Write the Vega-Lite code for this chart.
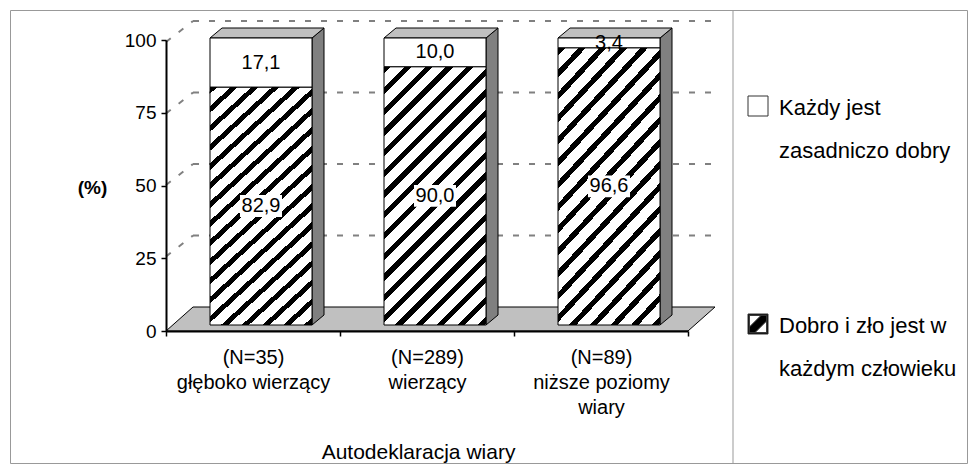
{
  "$schema": "https://vega.github.io/schema/vega-lite/v6.json",
  "autosize": "none",
  "padding": {"left": 10, "top": 10, "right": 7, "bottom": 1},
  "width": 957,
  "height": 453,
  "background": "white",
  "config": {
    "font": "Liberation Sans",
    "view": {"stroke": "#999999", "strokeWidth": 1},
    "locale": {"number": {"decimal": ",", "thousands": " ", "grouping": [3], "currency": ["", " zł"]}}
  },
  "datasets": {
    "bars": [
      {"cat": "(N=35)|głęboko wierzący", "series": "Dobro i zło jest w każdym człowieku", "value": 82.9},
      {"cat": "(N=35)|głęboko wierzący", "series": "Każdy jest zasadniczo dobry", "value": 17.1},
      {"cat": "(N=289)|wierzący", "series": "Dobro i zło jest w każdym człowieku", "value": 90.0},
      {"cat": "(N=289)|wierzący", "series": "Każdy jest zasadniczo dobry", "value": 10.0},
      {"cat": "(N=89)|niższe poziomy|wiary", "series": "Dobro i zło jest w każdym człowieku", "value": 96.6},
      {"cat": "(N=89)|niższe poziomy|wiary", "series": "Każdy jest zasadniczo dobry", "value": 3.4}
    ]
  },
  "layer": [
    {
      "data": {"values": [{}]},
      "layer": [
        {
          "mark": {"type": "point", "shape": "M-2.61,0L2.61,0L2.88,-0.24L-2.34,-0.24Z", "size": 40000, "filled": true, "fill": "#c0c0c0", "stroke": "#000000", "strokeWidth": 1, "opacity": 1},
          "encoding": {
            "x": {"datum": 1.5, "type": "quantitative", "scale": {"domain": [0, 3], "range": [156, 678], "nice": false, "zero": false}, "axis": null},
            "y": {"datum": 0, "type": "quantitative", "scale": {"domain": [0, 100], "range": [321, 30], "nice": false, "zero": false},
              "axis": {"orient": "left", "offset": -156, "values": [0, 25, 50, 75, 100], "tickSize": 5, "tickColor": "#000", "tickWidth": 1.5, "domainColor": "#000", "domainWidth": 2, "labelFontSize": 19, "labelColor": "#000", "labelPadding": 5, "grid": false, "title": "(%)", "titleAngle": 0, "titleFontSize": 19, "titleFontWeight": "bold", "titleColor": "#000", "titleX": -74, "titleY": 177, "titleAlign": "center", "titleBaseline": "middle", "zindex": 1}}
          }
        },
        {
          "mark": {"type": "rule", "color": "#999999", "strokeWidth": 1, "xOffset": 45},
          "encoding": {
            "x": {"datum": 3, "type": "quantitative", "scale": {"domain": [0, 3], "range": [156, 678], "nice": false, "zero": false}, "axis": null}
          }
        }
      ]
    },
    {
      "data": {"values": [{"v": 25}, {"v": 50}, {"v": 75}, {"v": 100}]},
      "layer": [
        {
          "mark": {"type": "rule", "color": "#808080", "strokeWidth": 2, "strokeDash": [6, 10], "xOffset": 27, "x2Offset": 24},
          "encoding": {
            "x": {"datum": 0, "type": "quantitative", "scale": {"domain": [0, 3], "range": [156, 678], "nice": false, "zero": false}, "axis": null},
            "x2": {"datum": 3},
            "y": {"field": "v", "type": "quantitative", "scale": {"domain": [0, 100], "range": [297, 11], "nice": false, "zero": false}, "axis": null}
          }
        },
        {
          "mark": {"type": "rule", "color": "#808080", "strokeWidth": 2, "strokeDash": [6, 10], "x2Offset": 27, "yOffset": 21},
          "encoding": {
            "x": {"datum": 0, "type": "quantitative", "scale": {"domain": [0, 3], "range": [156, 678], "nice": false, "zero": false}, "axis": null},
            "x2": {"datum": 0},
            "y": {"field": "v", "type": "quantitative", "scale": {"domain": [0, 100], "range": [297, 11], "nice": false, "zero": false}, "axis": null},
            "y2": {"field": "v"}
          }
        }
      ]
    },
    {
      "data": {"name": "bars"},
      "layer": [
        {
          "mark": {"type": "point", "filled": true, "size": 1, "opacity": 1},
          "encoding": {
            "x": {"field": "cat", "type": "nominal", "scale": {"domain": ["(N=35)|głęboko wierzący", "(N=289)|wierzący", "(N=89)|niższe poziomy|wiary"], "range": [156, 678], "paddingInner": 0, "paddingOuter": 0}},
            "y": {"datum": 50, "type": "quantitative", "scale": {"domain": [0, 100], "range": [315, 28], "nice": false, "zero": false}, "axis": null},
            "fill": {"field": "series", "type": "nominal", "scale": {"domain": ["Każdy jest zasadniczo dobry", "Dobro i zło jest w każdym człowieku"], "range": ["#ffffff", "#000000"]},
              "legend": {"title": null, "orient": "none", "legendX": 737, "legendY": 85, "padding": 0, "symbolSize": 400, "symbolStrokeColor": "#333333", "symbolStrokeWidth": 1, "symbolOpacity": 1, "labelFontSize": 22, "labelColor": "#000", "labelBaseline": "top", "labelOffset": 10, "labelLimit": 300, "rowPadding": 150,
                "labelExpr": "datum.label === 'Każdy jest zasadniczo dobry' ? ['Każdy jest', 'zasadniczo dobry'] : ['Dobro i zło jest w', 'każdym człowieku']",
                "encode": {"labels": {"update": {"lineHeight": {"value": 43}, "dy": {"value": -8}}}, "symbols": {"update": {"stroke": {"value": "#333333"}, "strokeWidth": {"value": 1}}}}}},
            "shape": {"field": "series", "type": "nominal", "scale": {"domain": ["Każdy jest zasadniczo dobry", "Dobro i zło jest w każdym człowieku"], "range": ["square", "M-1,-1H1V1H-1Z M-0.86,-0.86V0.86H0.86V-0.86Z M-0.86,0.86L-0.86,0.3L0.3,-0.86L0.86,-0.86L0.86,-0.3L-0.3,0.86Z"]},
              "legend": {"title": null, "orient": "none", "legendX": 737, "legendY": 85, "padding": 0, "symbolSize": 400, "symbolStrokeColor": "#333333", "symbolStrokeWidth": 1, "symbolOpacity": 1, "labelFontSize": 22, "labelColor": "#000", "labelBaseline": "top", "labelOffset": 10, "labelLimit": 300, "rowPadding": 150,
                "labelExpr": "datum.label === 'Każdy jest zasadniczo dobry' ? ['Każdy jest', 'zasadniczo dobry'] : ['Dobro i zło jest w', 'każdym człowieku']",
                "encode": {"labels": {"update": {"lineHeight": {"value": 43}, "dy": {"value": -8}}}, "symbols": {"update": {"stroke": {"value": "#333333"}, "strokeWidth": {"value": 1}}}}}}
          }
        },
        {
          "transform": [{"filter": "datum.series === 'Każdy jest zasadniczo dobry'"}],
          "mark": {"type": "point", "shape": "M1.02,0L1.26,-0.2L1.26,5.54L1.02,5.74Z", "size": 10000, "filled": true, "fill": "#808080", "stroke": "#000000", "strokeWidth": 1, "opacity": 1, "xOffset": 8},
          "encoding": {
            "x": {"field": "cat", "type": "nominal"},
            "y": {"datum": 100, "type": "quantitative", "axis": null}
          }
        },
        {
          "transform": [{"filter": "datum.series === 'Każdy jest zasadniczo dobry'"}],
          "mark": {"type": "point", "shape": "M-1.02,0L1.02,0L1.26,-0.2L-0.78,-0.2Z", "size": 10000, "filled": true, "fill": "#c0c0c0", "stroke": "#000000", "strokeWidth": 1, "opacity": 1, "xOffset": 8},
          "encoding": {
            "x": {"field": "cat", "type": "nominal"},
            "y": {"datum": 100, "type": "quantitative", "axis": null}
          }
        },
        {
          "mark": {"type": "bar", "width": 102, "xOffset": 8, "stroke": "#000000", "strokeWidth": 1},
          "encoding": {
            "x": {"field": "cat", "type": "nominal",
              "axis": {"orient": "bottom", "offset": -132, "tickBand": "extent", "labelExpr": "split(datum.label, '|')", "labelFontSize": 20, "labelLineHeight": 25, "labelAlign": "center", "labelBaseline": "top", "labelPadding": 11, "labelAngle": 0, "labelColor": "#000", "labelLimit": 300, "labelOverlap": false, "tickSize": 5, "tickColor": "#000", "tickWidth": 1.5, "domainColor": "#000", "domainWidth": 2, "grid": false, "title": "Autodeklaracja wiary", "titleFontSize": 21, "titleFontWeight": "normal", "titleColor": "#000", "titleX": 408, "titleY": 127, "titleBaseline": "alphabetic", "titleAlign": "center", "zindex": 1}},
            "y": {"field": "value", "type": "quantitative", "stack": "zero", "axis": null},
            "detail": {"field": "series"},
            "order": {"field": "series", "sort": "ascending"},
            "fill": {
              "condition": {"test": "datum.series === 'Dobro i zło jest w każdym człowieku'",
                "value": {"gradient": "linear", "x1": 0, "y1": 0, "x2": 0.5026, "y2": 1.2727, "stops": [
                  {"offset": 0, "color": "#000"}, {"offset": 0.019, "color": "#000"}, {"offset": 0.019, "color": "#fff"}, {"offset": 0.0545, "color": "#fff"},
                  {"offset": 0.0545, "color": "#000"}, {"offset": 0.0735, "color": "#000"}, {"offset": 0.0735, "color": "#fff"}, {"offset": 0.109, "color": "#fff"},
                  {"offset": 0.109, "color": "#000"}, {"offset": 0.128, "color": "#000"}, {"offset": 0.128, "color": "#fff"}, {"offset": 0.1635, "color": "#fff"},
                  {"offset": 0.1635, "color": "#000"}, {"offset": 0.1825, "color": "#000"}, {"offset": 0.1825, "color": "#fff"}, {"offset": 0.218, "color": "#fff"},
                  {"offset": 0.218, "color": "#000"}, {"offset": 0.237, "color": "#000"}, {"offset": 0.237, "color": "#fff"}, {"offset": 0.2725, "color": "#fff"},
                  {"offset": 0.2725, "color": "#000"}, {"offset": 0.2915, "color": "#000"}, {"offset": 0.2915, "color": "#fff"}, {"offset": 0.327, "color": "#fff"},
                  {"offset": 0.327, "color": "#000"}, {"offset": 0.346, "color": "#000"}, {"offset": 0.346, "color": "#fff"}, {"offset": 0.3815, "color": "#fff"},
                  {"offset": 0.3815, "color": "#000"}, {"offset": 0.4005, "color": "#000"}, {"offset": 0.4005, "color": "#fff"}, {"offset": 0.436, "color": "#fff"},
                  {"offset": 0.436, "color": "#000"}, {"offset": 0.455, "color": "#000"}, {"offset": 0.455, "color": "#fff"}, {"offset": 0.4905, "color": "#fff"},
                  {"offset": 0.4905, "color": "#000"}, {"offset": 0.5095, "color": "#000"}, {"offset": 0.5095, "color": "#fff"}, {"offset": 0.545, "color": "#fff"},
                  {"offset": 0.545, "color": "#000"}, {"offset": 0.564, "color": "#000"}, {"offset": 0.564, "color": "#fff"}, {"offset": 0.5995, "color": "#fff"},
                  {"offset": 0.5995, "color": "#000"}, {"offset": 0.6185, "color": "#000"}, {"offset": 0.6185, "color": "#fff"}, {"offset": 0.654, "color": "#fff"},
                  {"offset": 0.654, "color": "#000"}, {"offset": 0.673, "color": "#000"}, {"offset": 0.673, "color": "#fff"}, {"offset": 0.7085, "color": "#fff"},
                  {"offset": 0.7085, "color": "#000"}, {"offset": 0.7275, "color": "#000"}, {"offset": 0.7275, "color": "#fff"}, {"offset": 0.763, "color": "#fff"},
                  {"offset": 0.763, "color": "#000"}, {"offset": 0.782, "color": "#000"}, {"offset": 0.782, "color": "#fff"}, {"offset": 0.8175, "color": "#fff"},
                  {"offset": 0.8175, "color": "#000"}, {"offset": 0.8365, "color": "#000"}, {"offset": 0.8365, "color": "#fff"}, {"offset": 0.872, "color": "#fff"},
                  {"offset": 0.872, "color": "#000"}, {"offset": 0.891, "color": "#000"}, {"offset": 0.891, "color": "#fff"}, {"offset": 0.9265, "color": "#fff"},
                  {"offset": 0.9265, "color": "#000"}, {"offset": 0.9455, "color": "#000"}, {"offset": 0.9455, "color": "#fff"}, {"offset": 0.981, "color": "#fff"},
                  {"offset": 0.981, "color": "#000"}, {"offset": 1, "color": "#000"}
                ]}},
              "value": "#ffffff"
            }
          }
        },
        {
          "transform": [{"filter": "datum.series === 'Dobro i zło jest w każdym człowieku'"}],
          "mark": {"type": "point", "shape": "M-1,-0.52H1V0.52H-1Z", "size": 1764, "filled": true, "fill": "#ffffff", "strokeWidth": 0, "opacity": 1, "xOffset": 8},
          "encoding": {
            "x": {"field": "cat", "type": "nominal"},
            "y": {"field": "value", "type": "quantitative", "stack": "zero", "bandPosition": 0.5, "axis": null},
            "detail": {"field": "series"}
          }
        },
        {
          "mark": {"type": "text", "fontSize": 20, "xOffset": 8, "baseline": "middle", "align": "center", "color": "#000000"},
          "encoding": {
            "x": {"field": "cat", "type": "nominal"},
            "y": {"field": "value", "type": "quantitative", "stack": "zero", "bandPosition": 0.5, "axis": null},
            "detail": {"field": "series"},
            "order": {"field": "series", "sort": "ascending"},
            "text": {"field": "value", "type": "quantitative", "format": ".1f"}
          }
        }
      ]
    }
  ],
  "resolve": {"scale": {"x": "independent", "y": "independent"}}
}
